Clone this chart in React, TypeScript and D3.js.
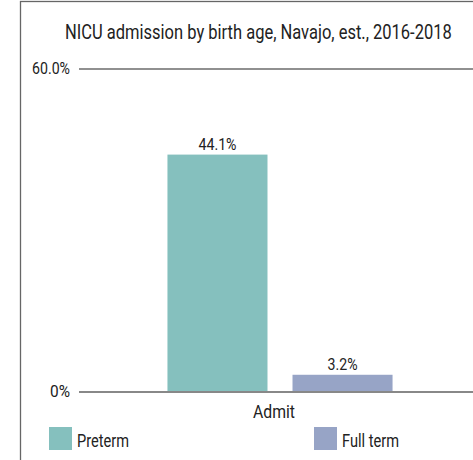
import { useEffect, useRef } from 'react'
import * as d3 from 'd3'

const categories = ['Admit']
const seriesNames = ['Preterm', 'Full term']
const seriesValues = [44.1, 3.2]
const seriesColors = ['#85c0be', '#97a4c6']
const yTicks = [0, 60]
const yTickLabels = ['0%', '60.0%']
const title = 'NICU admission by birth age, Navajo, est., 2016-2018'

const FONT = 'Roboto, "Noto Sans", sans-serif'

// the original uses a condensed face: squeeze a text horizontally to width w,
// keeping its left edge at x
function squeeze(parent: any, txt: string, x: number, y: number, size: number, w: number) {
  const t = parent.append('text')
    .attr('x', 0)
    .attr('y', 0)
    .style('font-family', FONT)
    .style('font-size', `${size}px`)
    .attr('fill', '#222')
    .text(txt)
  const len = (t.node() as SVGTextElement).getComputedTextLength() || w
  t.attr('transform', `translate(${x},${y}) scale(${w / len},1)`)
  return t
}

export default function App() {
  const svgRef = useRef<SVGSVGElement>(null)

  useEffect(() => {
    const svg = d3.select(svgRef.current)
    svg.selectAll('*').remove()

    const width = 473
    const height = 460
    const left = 79
    const right = 481
    const top = 69
    const bottom = 392

    svg.attr('width', width).attr('height', height)

    // Frame
    svg.append('rect')
      .attr('x', 20.5)
      .attr('y', 1.5)
      .attr('width', 480)
      .attr('height', 480)
      .attr('fill', 'white')
      .attr('stroke', '#666')
      .attr('stroke-width', 1.3)

    // Title
    squeeze(svg, title, 65, 39, 20, 387)

    const xScale = d3.scaleBand()
      .domain(categories)
      .range([left, right])
      .paddingInner(0)
      .paddingOuter(0.393)

    const xInner = d3.scaleBand()
      .domain(seriesNames)
      .range([0, xScale.bandwidth()])
      .paddingInner(0.2)

    const yScale = d3.scaleLinear()
      .domain([0, 60])
      .range([bottom, top])

    // Gridlines at ticks
    svg.selectAll('.grid')
      .data(yTicks)
      .enter()
      .append('line')
      .attr('x1', left)
      .attr('x2', width)
      .attr('y1', d => yScale(d))
      .attr('y2', d => yScale(d))
      .attr('stroke', d => d === 0 ? '#888' : '#222')
      .attr('stroke-width', d => d === 0 ? 2 : 1.1)

    const tickW = [20, 38]
    yTicks.forEach((d, i) => {
      squeeze(svg, yTickLabels[i], 70 - tickW[i], yScale(d) + 5, 16, tickW[i])
    })

    // Bars
    const x0 = xScale(categories[0]) || 0
    svg.selectAll('.bar')
      .data(seriesValues)
      .enter()
      .append('rect')
      .attr('x', (d, i) => x0 + (xInner(seriesNames[i]) || 0))
      .attr('width', xInner.bandwidth())
      .attr('y', d => yScale(d))
      .attr('height', d => bottom - yScale(d) - 1)
      .attr('fill', (d, i) => seriesColors[i])

    const labelW = [38, 30]
    seriesValues.forEach((d, i) => {
      const cx = x0 + (xInner(seriesNames[i]) || 0) + xInner.bandwidth() / 2
      squeeze(svg, `${d.toFixed(1)}%`, cx - labelW[i] / 2, yScale(d) - 5, 16, labelW[i])
    })

    // Category label
    squeeze(svg, categories[0], x0 + xScale.bandwidth() / 2 - 6 - 21, 418, 19, 42)

    // Legend
    const legendX = [49, 314]
    const legendW = [52, 57]
    seriesNames.forEach((name, i) => {
      svg.append('rect')
        .attr('x', legendX[i])
        .attr('y', 427)
        .attr('width', 23)
        .attr('height', 23)
        .attr('fill', seriesColors[i])
      squeeze(svg, name, legendX[i] + 28, 447, 19, legendW[i])
    })
  }, [])

  return (
    <svg ref={svgRef} style={{ position: 'absolute', left: 0, top: 0 }}></svg>
  )
}
